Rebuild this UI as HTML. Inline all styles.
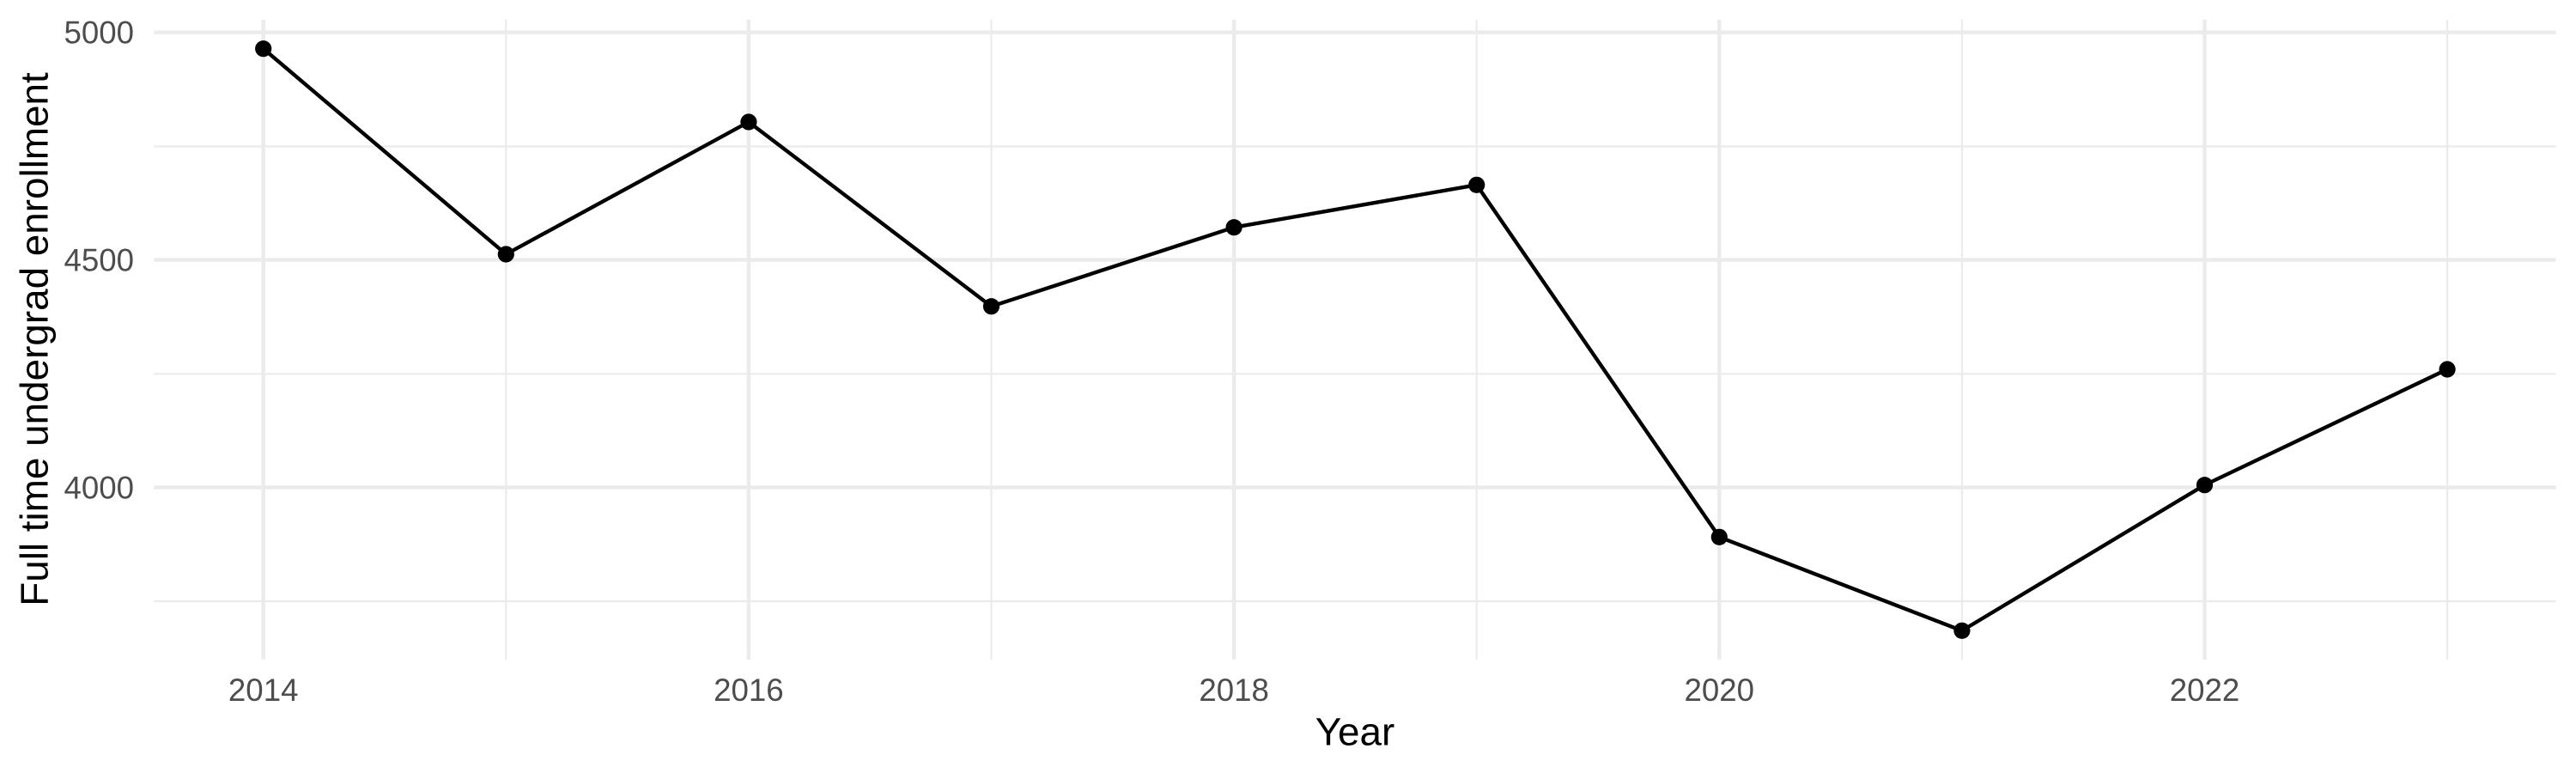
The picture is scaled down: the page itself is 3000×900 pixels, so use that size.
<!DOCTYPE html>
<html>
<head>
<meta charset="utf-8">
<style>
  html, body { margin: 0; padding: 0; background: #ffffff; }
  svg { display: block; }
  text { font-family: "Liberation Sans", Arial, sans-serif; }
</style>
</head>
<body>
<svg width="3000" height="900" viewBox="0 0 3000 900" xmlns="http://www.w3.org/2000/svg">
  <rect x="0" y="0" width="3000" height="900" fill="#ffffff"/>
  <!-- minor horizontal gridlines -->
  <g stroke="#ebebeb" stroke-width="2.2" fill="none">
    <line x1="179.3" y1="170.5" x2="2976.7" y2="170.5"/>
    <line x1="179.3" y1="435.3" x2="2976.7" y2="435.3"/>
    <line x1="179.3" y1="700" x2="2976.7" y2="700"/>
    <!-- minor vertical -->
    <line x1="589.3" y1="23" x2="589.3" y2="767.7"/>
    <line x1="1154.5" y1="23" x2="1154.5" y2="767.7"/>
    <line x1="1719.7" y1="23" x2="1719.7" y2="767.7"/>
    <line x1="2284.9" y1="23" x2="2284.9" y2="767.7"/>
    <line x1="2850.1" y1="23" x2="2850.1" y2="767.7"/>
  </g>
  <!-- major gridlines -->
  <g stroke="#ebebeb" stroke-width="4.4" fill="none">
    <line x1="179.3" y1="37.7" x2="2976.7" y2="37.7"/>
    <line x1="179.3" y1="302.6" x2="2976.7" y2="302.6"/>
    <line x1="179.3" y1="567.5" x2="2976.7" y2="567.5"/>
    <line x1="306.7" y1="23" x2="306.7" y2="767.7"/>
    <line x1="871.9" y1="23" x2="871.9" y2="767.7"/>
    <line x1="1437.1" y1="23" x2="1437.1" y2="767.7"/>
    <line x1="2002.3" y1="23" x2="2002.3" y2="767.7"/>
    <line x1="2567.5" y1="23" x2="2567.5" y2="767.7"/>
  </g>
  <!-- data line -->
  <polyline fill="none" stroke="#000000" stroke-width="4.4" stroke-linejoin="round" stroke-linecap="butt"
    points="306.7,56.7 589.3,296 871.9,142 1154.5,356.7 1437.1,264.7 1719.7,215.3 2002.3,625.3 2284.9,734.3 2567.5,564.7 2850.1,430"/>
  <!-- points -->
  <g fill="#000000">
    <circle cx="306.7" cy="56.7" r="9.6"/>
    <circle cx="589.3" cy="296" r="9.6"/>
    <circle cx="871.9" cy="142" r="9.6"/>
    <circle cx="1154.5" cy="356.7" r="9.6"/>
    <circle cx="1437.1" cy="264.7" r="9.6"/>
    <circle cx="1719.7" cy="215.3" r="9.6"/>
    <circle cx="2002.3" cy="625.3" r="9.6"/>
    <circle cx="2284.9" cy="734.3" r="9.6"/>
    <circle cx="2567.5" cy="564.7" r="9.6"/>
    <circle cx="2850.1" cy="430" r="9.6"/>
  </g>
  <!-- y tick labels -->
  <g fill="#4d4d4d" font-size="36.67" text-anchor="end">
    <text x="156" y="50.7">5000</text>
    <text x="156" y="315.6">4500</text>
    <text x="156" y="580.5">4000</text>
  </g>
  <!-- x tick labels -->
  <g fill="#4d4d4d" font-size="36.67" text-anchor="middle">
    <text x="306.7" y="816">2014</text>
    <text x="871.9" y="816">2016</text>
    <text x="1437.1" y="816">2018</text>
    <text x="2002.3" y="816">2020</text>
    <text x="2567.5" y="816">2022</text>
  </g>
  <!-- axis titles -->
  <text x="1578" y="867.3" font-size="45.83" fill="#000000" text-anchor="middle">Year</text>
  <text transform="translate(55.5,395) rotate(-90)" font-size="45.83" fill="#000000" text-anchor="middle">Full time undergrad enrollment</text>
</svg>
</body>
</html>
